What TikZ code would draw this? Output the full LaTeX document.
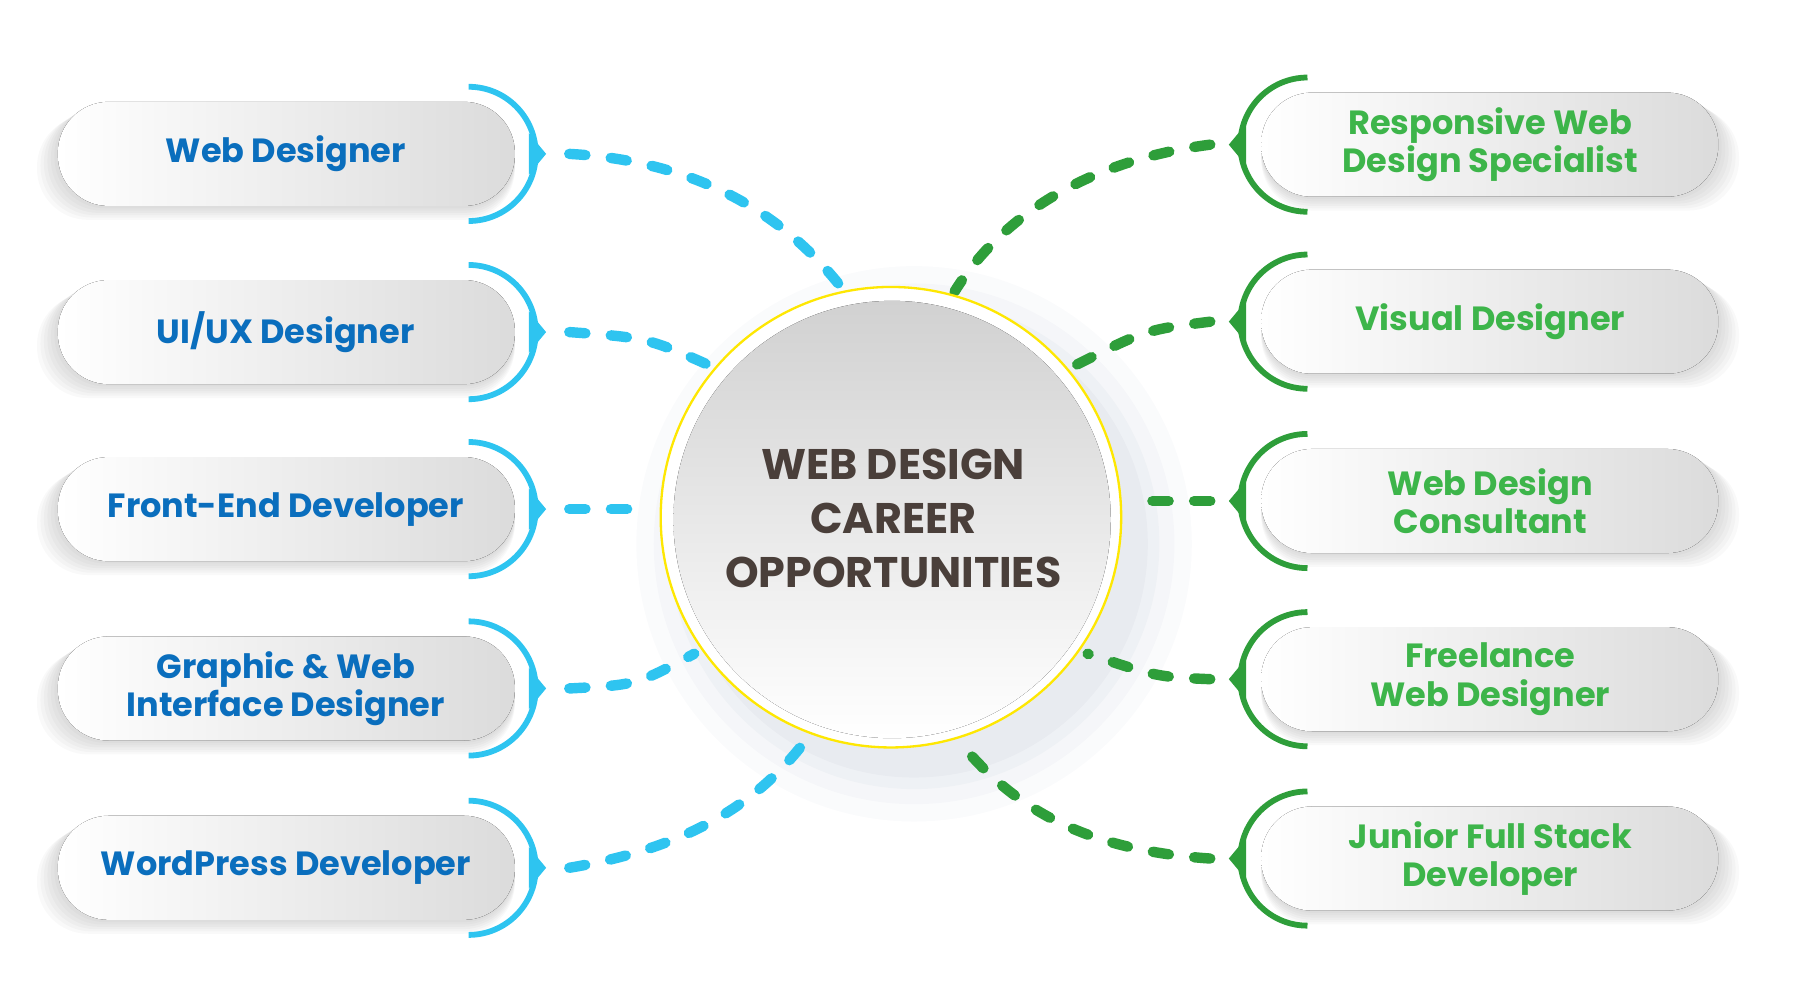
\documentclass[tikz,border=0pt]{standalone}
\usepackage{fontspec}
\setmainfont{Poppins}[UprightFont=* Bold,BoldFont=* Bold]
\usetikzlibrary{shapes.geometric}
\definecolor{bt}{HTML}{0A6EBD}
\definecolor{bl}{HTML}{2EC4F0}
\definecolor{gt}{HTML}{3DB54A}
\definecolor{gl}{HTML}{2E9E3A}
\definecolor{tt}{HTML}{4A3F3A}
\definecolor{sh}{HTML}{8A9AB5}
\begin{document}
\begin{tikzpicture}[x=1pt,y=-1pt,
  pill/.style={rounded corners=44pt,left color=white,right color=black!14},
  lab/.style={align=center,font=\fontsize{29}{33}\selectfont},
  dl/.style={line width=9pt,line cap=round,dash pattern=on 14pt off 22pt},
]
\useasboundingbox (0,0) rectangle (1560,862);
% central shadow
\foreach \r/\o in {240/0.04,225/0.05,212/0.06,202/0.07}
  \fill[sh,opacity=\o] (790,470) circle (\r);
% left
\foreach \y/\t/\n in {133/{Web Designer}/L1,287/{UI/UX Designer}/L2,440/{Front-End Developer}/L3,595/{Graphic \& Web\\Interface Designer}/L4,750/{WordPress Developer}/L5}{
  \foreach \k in {1,...,6} \fill[black,opacity=0.025,rounded corners=44pt] (50-3*\k,\y-45+2*\k) rectangle (445,\y+45+2*\k);
  \fill[pill] (50,\y-45) rectangle (445,\y+45);
  \node[lab,text=bt] at (247,\y) {\t};
  \draw[bl,line width=5pt] (405,\y-58) arc[start angle=-90,end angle=90,radius=58];
  \fill[bl] (472,\y) -- (457,\y-18) -- (457,\y+18) -- cycle;
  \coordinate (\n) at (492,\y);
}
% right
\foreach \y/\t/\n in {125/{Responsive Web\\Design Specialist}/R1,278/{Visual Designer}/R2,433/{Web Design\\Consultant}/R3,587/{Freelance\\Web Designer}/R4,742/{Junior Full Stack\\Developer}/R5}{
  \foreach \k in {1,...,6} \fill[black,opacity=0.025,rounded corners=44pt] (1090,\y-45+2*\k) rectangle (1485+3*\k,\y+45+2*\k);
  \fill[pill] (1090,\y-45) rectangle (1485,\y+45);
  \node[lab,text=gt] at (1288,\y) {\t};
  \draw[gl,line width=5pt] (1130,\y-58) arc[start angle=-90,end angle=-270,radius=58];
  \fill[gl] (1062,\y) -- (1077,\y-18) -- (1077,\y+18) -- cycle;
  \coordinate (\n) at (1046,\y);
}
% center
\coordinate (c) at (770,447);
\coordinate (a1) at (730,252); \coordinate (a2) at (618,318); \coordinate (a3) at (563,440);
\coordinate (a4) at (600,565); \coordinate (a5) at (700,635);
\coordinate (b1) at (825,252); \coordinate (b2) at (925,318); \coordinate (b3) at (978,433);
\coordinate (b4) at (940,565); \coordinate (b5) at (835,648);
\draw[dl,bl] (L1) .. controls (620,140) and (690,200) .. (a1);
\draw[dl,bl] (L2) .. controls (560,292) .. (a2);
\draw[dl,bl] (L3) -- (a3);
\draw[dl,bl] (L4) .. controls (550,592) .. (a4);
\draw[dl,bl] (L5) .. controls (600,732) and (660,690) .. (a5);
\draw[dl,gl] (R1) .. controls (930,140) and (860,195) .. (b1);
\draw[dl,gl] (R2) .. controls (990,285) .. (b2);
\draw[dl,gl] (R3) -- (b3);
\draw[dl,gl] (R4) .. controls (1000,585) .. (b4);
\draw[dl,gl] (R5) .. controls (940,735) and (880,700) .. (b5);
\fill[white,draw=yellow!90!orange,line width=2pt] (c) circle (199);
\fill[top color=black!18,bottom color=white] (771,449) circle (189);
\node[align=center,text=tt,font=\fontsize{37}{47}\selectfont] at (772,448) {WEB DESIGN\\CAREER\\OPPORTUNITIES};
\end{tikzpicture}
\end{document}
